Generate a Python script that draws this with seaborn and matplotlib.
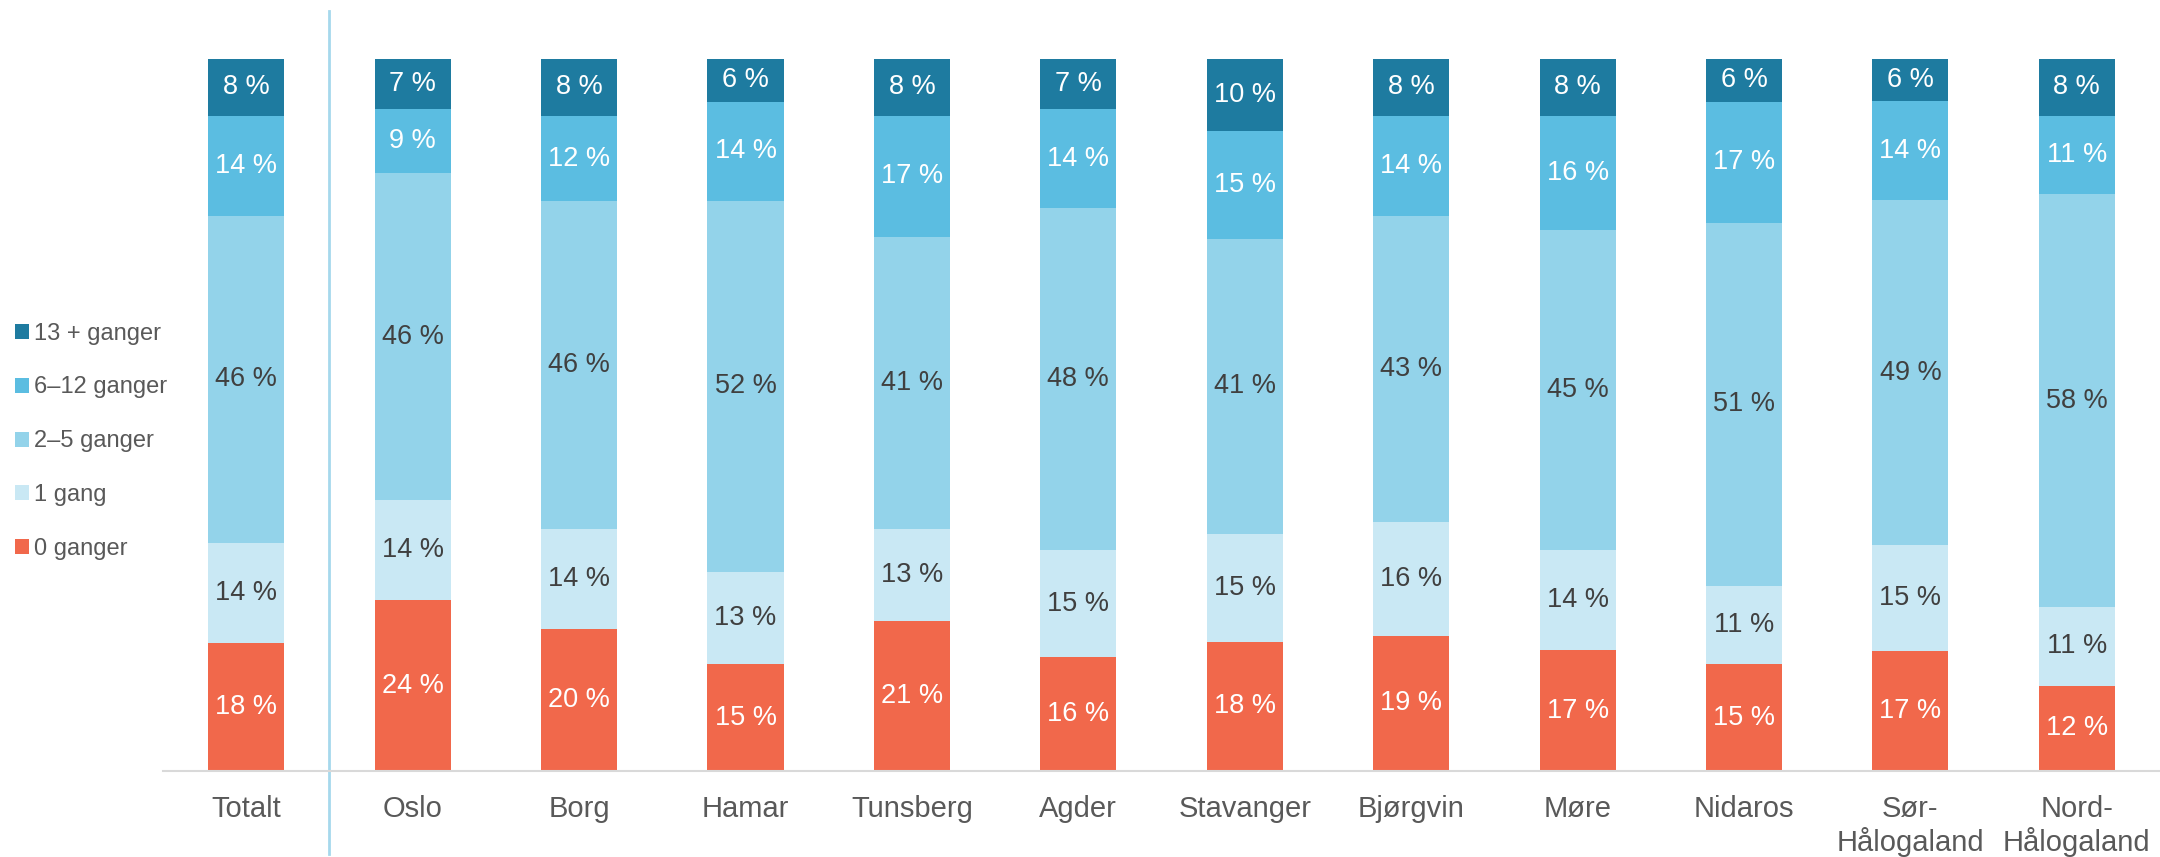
import matplotlib
matplotlib.use("Agg")
import matplotlib.pyplot as plt
from matplotlib.patches import Patch
import seaborn as sns
import numpy as np
import pandas as pd

# data (percent, as printed on the bars)
categories = ["Totalt", "Oslo", "Borg", "Hamar", "Tunsberg", "Agder", "Stavanger",
              "Bjørgvin", "Møre", "Nidaros", "Sør-\nHålogaland", "Nord-\nHålogaland"]
series_names = ["0 ganger", "1 gang", "2–5 ganger", "6–12 ganger", "13 + ganger"]
ganger_0 = [18, 24, 20, 15, 21, 16, 18, 19, 17, 15, 17, 12]
gang_1 = [14, 14, 14, 13, 13, 15, 15, 16, 14, 11, 15, 11]
ganger_2_5 = [46, 46, 46, 52, 41, 48, 41, 43, 45, 51, 49, 58]
ganger_6_12 = [14, 9, 12, 14, 17, 14, 15, 14, 16, 17, 14, 11]
ganger_13 = [8, 7, 8, 6, 8, 7, 10, 8, 8, 6, 6, 8]

colors = ["#F1684B", "#C9E8F4", "#93D3EA", "#5BBDE1", "#1E7BA0"]
text_colors = ["white", "#404040", "#404040", "white", "white"]

vals = np.array([ganger_0, gang_1, ganger_2_5, ganger_6_12, ganger_13], dtype=float)
shares = vals / vals.sum(axis=0) * 100  # 100 % stacked
cum = np.cumsum(shares, axis=0)

plt.rcParams['font.family'] = ['Liberation Sans', 'DejaVu Sans']
fig = plt.figure(figsize=(21.6, 8.57), dpi=100)
ax = fig.add_axes([0.0755, 0.1003, 0.9245, 0.831])

bar_w = 0.457
# draw cumulative bars from top to bottom so each layer overlays the previous one
for i in range(len(series_names) - 1, -1, -1):
    df = pd.DataFrame({"cat": categories, "val": cum[i]})
    sns.barplot(data=df, x="cat", y="val", color=colors[i], width=bar_w,
                saturation=1, ax=ax, edgecolor="none", linewidth=0)

for i in range(len(series_names)):
    for j in range(len(categories)):
        mid = cum[i, j] - shares[i, j] / 2
        ax.text(j, mid, f"{int(vals[i, j])} %", ha="center", va="center",
                fontsize=19.5, color=text_colors[i])

ax.set_xlim(-0.5, len(categories) - 0.5)
ax.set_ylim(0, 100)
ax.set_xlabel("")
ax.set_ylabel("")
ax.set_yticks([])
for s in ["top", "right", "left"]:
    ax.spines[s].set_visible(False)
ax.spines["bottom"].set_color("#D9D9D9")
ax.spines["bottom"].set_linewidth(1.5)
ax.tick_params(axis="x", length=0, pad=17, labelsize=21, labelcolor="#595959")

# separator between Totalt and the dioceses
ax.axvline(0.5, ymin=-0.117, ymax=1.067, color="#A6D8EC", lw=2, clip_on=False)

handles = [Patch(facecolor=colors[i], edgecolor="none") for i in range(len(series_names) - 1, -1, -1)]
labels = [series_names[i] for i in range(len(series_names) - 1, -1, -1)]
fig.legend(handles, labels, loc="center left", bbox_to_anchor=(0.007, 0.485),
           frameon=False, fontsize=17, labelcolor="#595959", borderaxespad=0, borderpad=0,
           handlelength=0.6, handleheight=0.6, handletextpad=0.2, labelspacing=1.35)

fig.savefig("out.png", dpi=100)
